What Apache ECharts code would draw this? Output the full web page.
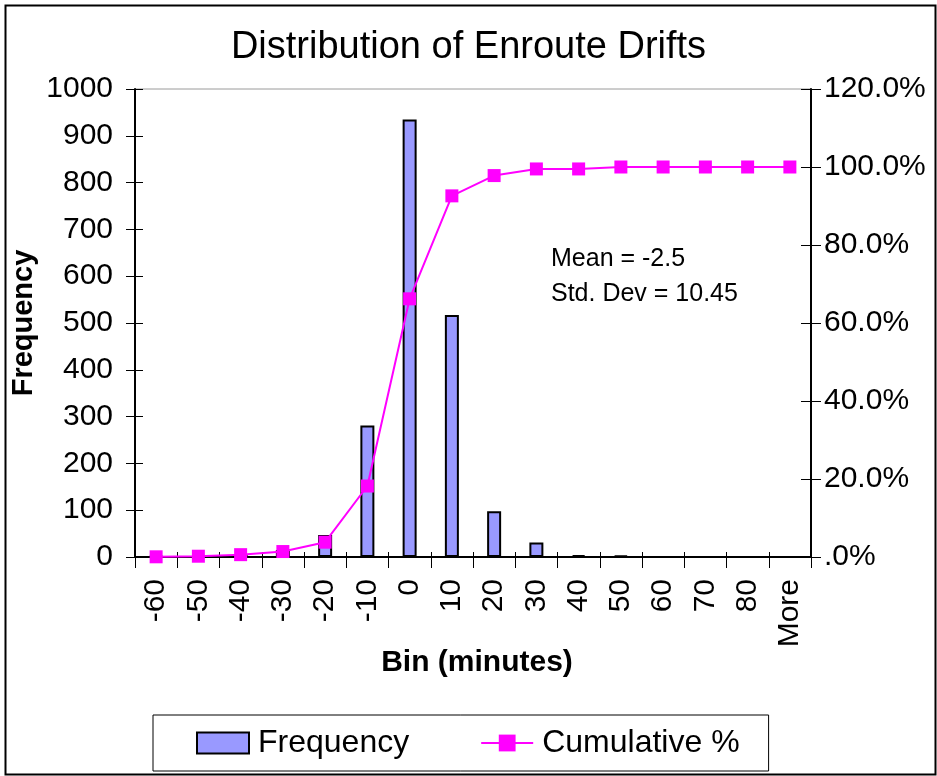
<!DOCTYPE html>
<html>
<head>
<meta charset="utf-8">
<script src="https://cdn.jsdelivr.net/npm/echarts@6/dist/echarts.min.js"></script>
<style>
  html, body { margin: 0; padding: 0; background: #fff; }
  #chart { width: 937px; height: 776px; }
</style>
</head>
<body>
<div id="chart"></div>
<script>
// Histogram bins (minutes)
const bins = ['-60', '-50', '-40', '-30', '-20', '-10', '0', '10', '20', '30', '40', '50', '60', '70', '80', 'More'];
// Counts per bin
const frequency = [1, 3, 6, 15, 47, 281, 935, 517, 98, 31, 4, 3, 0, 0, 0, 0];
// Cumulative share of all drifts, in percent
const cumulativePct = [0.05, 0.2, 0.6, 1.4, 3.8, 18.2, 66.2, 92.6, 97.8, 99.5, 99.5, 100, 100, 100, 100, 100];
// Axis ranges
const freqAxis = { min: 0, max: 1000, interval: 100 };
const pctAxis = { min: 0, max: 120, interval: 20 };
const statsLines = ['Mean = -2.5', 'Std. Dev = 10.45'];

const FONT = 'Liberation Sans, Arial, sans-serif';
const chart = echarts.init(document.getElementById('chart'), null, { renderer: 'canvas' });

const hidden = { show: false };

chart.setOption({
  backgroundColor: '#ffffff',
  animation: false,
  title: {
    text: 'Distribution of Enroute Drifts',
    left: 'center',
    top: 24,
    textStyle: { fontFamily: FONT, fontSize: 38, fontWeight: 'normal', color: '#000' }
  },
  grid: {
    left: 135, right: 126, top: 89, bottom: 219,
    outerBoundsMode: 'none',
    show: true, borderColor: '#9a9a9a', borderWidth: 1, backgroundColor: 'transparent'
  },
  legend: {
    left: 153, top: 715,
    padding: [12, 29, 12, 43],
    itemGap: 71,
    itemWidth: 52, itemHeight: 21,
    borderColor: '#000', borderWidth: 1,
    textStyle: { fontFamily: FONT, fontSize: 32, color: '#000', padding: [0, 0, 0, 4] },
    data: [
      { name: 'Frequency', icon: 'rect' },
      { name: 'Cumulative %' }
    ]
  },
  xAxis: [
    {
      type: 'category', data: bins, position: 'bottom', boundaryGap: true,
      axisLine: { lineStyle: { color: '#000', width: 2 } },
      axisTick: { show: true, inside: false, length: 11, alignWithLabel: false, lineStyle: { color: '#000', width: 1 } },
      axisLabel: { rotate: 90, margin: 22, fontFamily: FONT, fontSize: 30, color: '#000', interval: 0 },
      name: 'Bin (minutes)', nameLocation: 'middle', nameGap: 91, nameMoveOverlap: false,
      nameTextStyle: { fontFamily: FONT, fontSize: 30, fontWeight: 'bold', color: '#000', padding: [0, 0, 0, 8] }
    },
    {
      // inner half of the crossing tick marks
      type: 'category', data: bins, position: 'bottom', boundaryGap: true,
      axisLine: hidden, axisLabel: hidden,
      axisTick: { show: true, inside: true, length: 5, lineStyle: { color: '#000', width: 1 } }
    }
  ],
  yAxis: [
    {
      type: 'value', position: 'left', min: freqAxis.min, max: freqAxis.max, interval: freqAxis.interval,
      splitLine: hidden,
      axisLine: { show: true, lineStyle: { color: '#000', width: 2 } },
      axisTick: { show: true, inside: false, length: 9, lineStyle: { color: '#000', width: 1 } },
      axisLabel: { margin: 22, fontFamily: FONT, fontSize: 30, color: '#000', formatter: v => String(v) },
      name: 'Frequency', nameLocation: 'middle', nameGap: 97, nameRotate: 90, nameMoveOverlap: false,
      nameTextStyle: { fontFamily: FONT, fontSize: 29, fontWeight: 'bold', color: '#000' }
    },
    {
      type: 'value', position: 'right', min: pctAxis.min, max: pctAxis.max, interval: pctAxis.interval,
      splitLine: hidden,
      axisLine: { show: true, lineStyle: { color: '#000', width: 2 } },
      axisTick: { show: true, inside: false, length: 10, lineStyle: { color: '#000', width: 1 } },
      axisLabel: {
        margin: 13, fontFamily: FONT, fontSize: 30, color: '#000',
        formatter: v => (v === 0 ? '.0%' : v.toFixed(1) + '%')
      }
    },
    {
      type: 'value', position: 'left', min: freqAxis.min, max: freqAxis.max, interval: freqAxis.interval,
      splitLine: hidden, axisLine: hidden, axisLabel: hidden,
      axisTick: { show: true, inside: true, length: 8, lineStyle: { color: '#000', width: 1 } }
    },
    {
      type: 'value', position: 'right', min: pctAxis.min, max: pctAxis.max, interval: pctAxis.interval,
      splitLine: hidden, axisLine: hidden, axisLabel: hidden,
      axisTick: { show: true, inside: true, length: 10, lineStyle: { color: '#000', width: 1 } }
    }
  ],
  series: [
    {
      name: 'Frequency', type: 'bar', xAxisIndex: 0, yAxisIndex: 0,
      data: frequency, barWidth: 14,
      itemStyle: { color: '#9999ff', borderColor: '#000', borderWidth: 2 },
      z: 2
    },
    {
      name: 'Cumulative %', type: 'line', xAxisIndex: 0, yAxisIndex: 1,
      data: cumulativePct,
      symbol: 'rect', symbolSize: 13,
      lineStyle: { color: '#ff00ff', width: 2 },
      itemStyle: { color: '#ff00ff' },
      z: 3
    }
  ],
  graphic: [
    {
      type: 'rect', left: 3, top: 3, silent: true,
      shape: { width: 930, height: 769 },
      style: { fill: 'none', stroke: '#000', lineWidth: 2 }
    },
    {
      type: 'text', left: 551, top: 247,
      style: { text: statsLines[0], fontFamily: FONT, fontSize: 25, fill: '#000' }
    },
    {
      type: 'text', left: 551, top: 282,
      style: { text: statsLines[1], fontFamily: FONT, fontSize: 25, fill: '#000' }
    }
  ]
});
</script>
</body>
</html>
